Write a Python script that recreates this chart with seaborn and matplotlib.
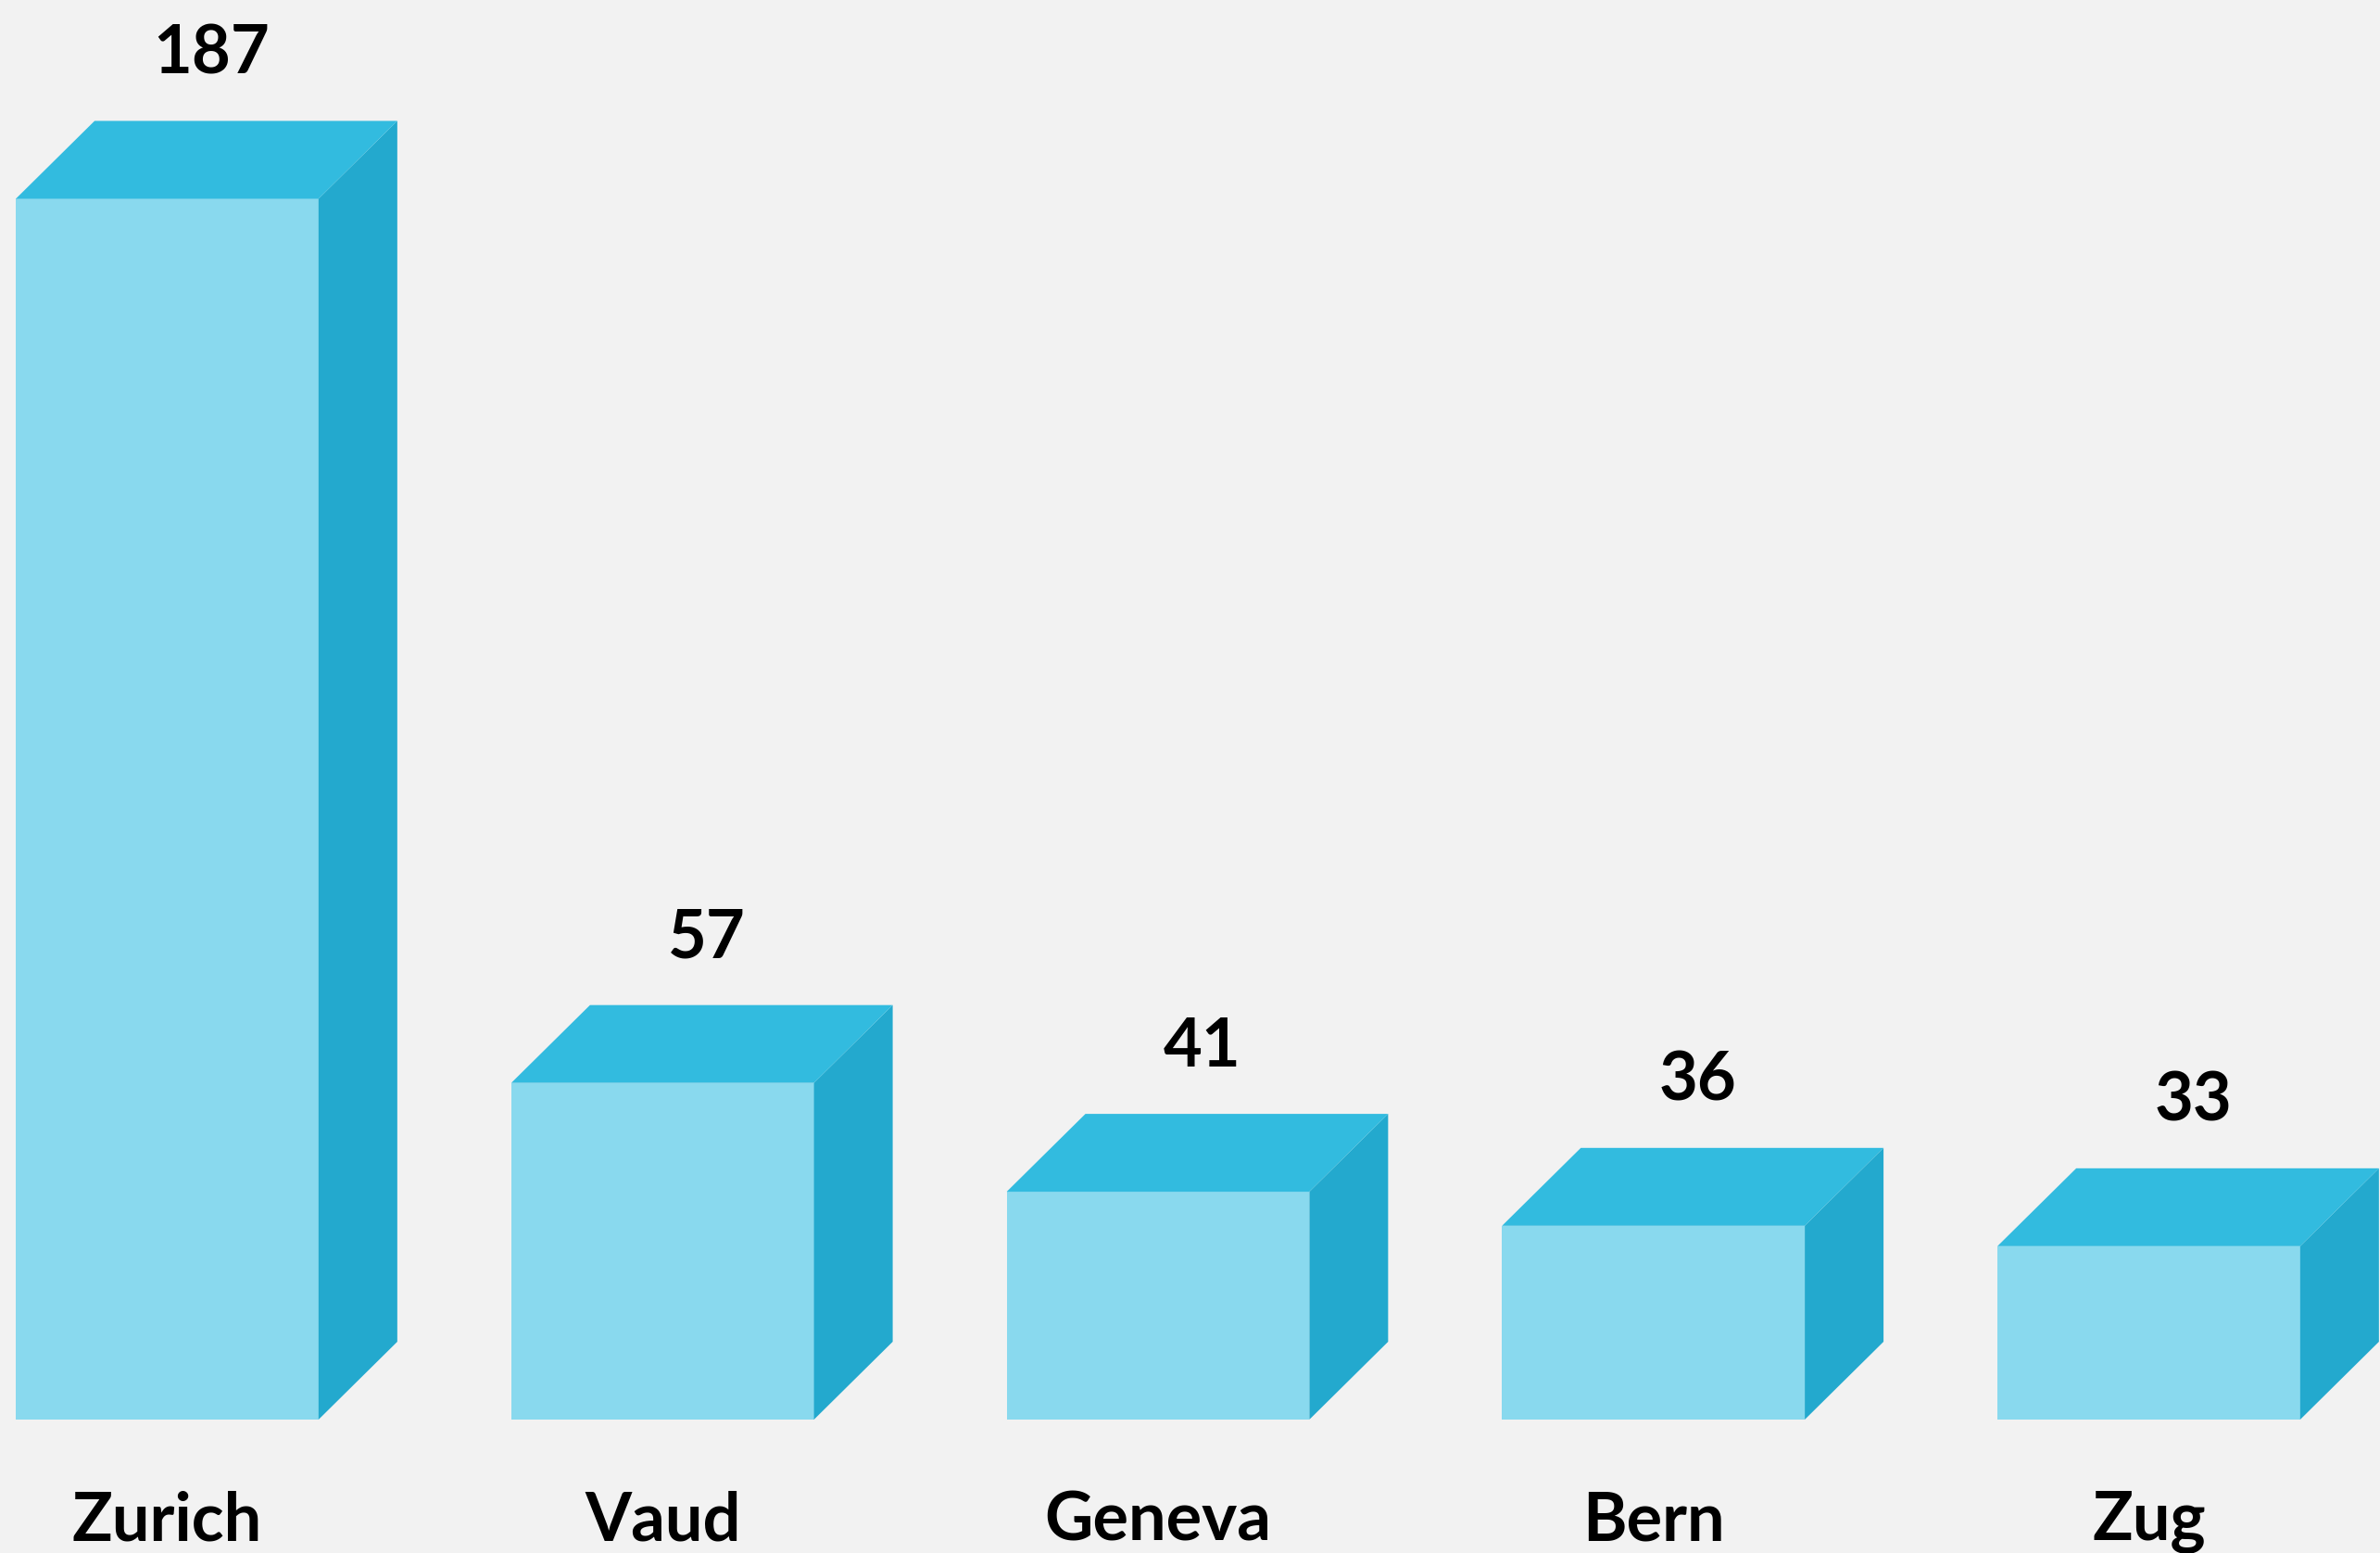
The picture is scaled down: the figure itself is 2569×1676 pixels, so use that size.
import matplotlib
matplotlib.use("Agg")
import matplotlib.pyplot as plt
import seaborn as sns
import pandas as pd
from matplotlib.patches import Polygon

# Data
cantons = ["Zurich", "Vaud", "Geneva", "Bern", "Zug"]
counts = [187, 57, 41, 36, 33]

# Box colours: front, top and right-hand faces
FRONT = "#89D9EE"
TOP = "#32BBDF"
SIDE = "#23A9CE"
BG = "#F2F2F2"

sns.set_theme(style="white", rc={"figure.facecolor": BG, "axes.facecolor": BG})
plt.rcParams["font.family"] = ["Lato", "DejaVu Sans"]

W, H = 2569, 1676
fig = plt.figure(figsize=(W / 100, H / 100), dpi=100)
base_px = 144
ax = fig.add_axes([0, base_px / H, 1, (H - base_px) / H])

df = pd.DataFrame({"canton": cantons, "count": counts})
sns.barplot(data=df, x="canton", y="count", color=FRONT, saturation=1,
            width=0.611, ax=ax, edgecolor="none", linewidth=0, zorder=2)

px_per_unit = 7.34
ybot = 7.5
ax.set_xlim(-0.3375, 4.4666)
ax.set_ylim(ybot, ybot + (H - base_px) / px_per_unit)

# depth of the boxes, in pixels converted to data units
fig.canvas.draw()
t = ax.transData
dx = 85 / (t.transform((1, 0))[0] - t.transform((0, 0))[0])
dy = 84 / (t.transform((0, 1))[1] - t.transform((0, 0))[1])

for p, v in zip(ax.patches, counts):
    x0, w, h = p.get_x(), p.get_width(), p.get_height()
    top = Polygon([(x0, h), (x0 + w, h), (x0 + w + dx, h + dy), (x0 + dx, h + dy)],
                  closed=True, facecolor=TOP, edgecolor="none", clip_on=False, zorder=2)
    side = Polygon([(x0 + w, ybot), (x0 + w + dx, ybot + dy), (x0 + w + dx, h + dy), (x0 + w, h)],
                   closed=True, facecolor=SIDE, edgecolor="none", clip_on=False, zorder=2)
    ax.add_patch(side)
    ax.add_patch(top)
    ax.annotate(f"{v}", (x0 + (w + dx) / 2, h + dy), xytext=(4, 37),
                textcoords="offset points", ha="center", va="baseline",
                fontsize=52, fontweight="bold", color="black")

for s in ax.spines.values():
    s.set_visible(False)
ax.set_yticks([])
ax.set_xlabel("")
ax.set_ylabel("")
ax.tick_params(axis="x", length=0, pad=55, labelsize=52)
for lab in ax.get_xticklabels():
    lab.set_fontweight("bold")
    lab.set_color("black")

fig.savefig("out.png", dpi=100, facecolor=BG)
